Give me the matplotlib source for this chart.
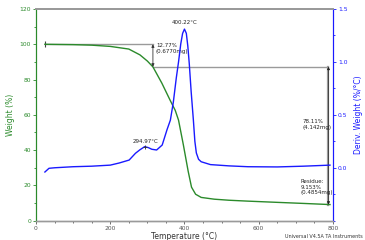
import numpy as np
import matplotlib.pyplot as plt

# Weight curve (TGA)
temp_w = [24, 60, 100, 150, 200, 250, 280, 300, 315, 339, 362, 375, 384, 397, 410, 419,
          430, 445, 480, 520, 570, 650, 720, 792]
weight = [100, 99.9, 99.8, 99.5, 98.8, 97.3, 94.0, 90.5, 87.2, 78.0, 68.0, 62.6, 57.0,
          43.0, 28.0, 19.0, 15.0, 13.2, 12.2, 11.6, 11.1, 10.4, 9.8, 9.15]

# Derivative weight curve (DTG)
temp_d = [24, 35, 50, 100, 150, 200, 224, 251, 268, 280, 293, 303, 312, 325, 340, 353,
          362, 370, 378, 384, 390, 395, 400, 405, 409, 413, 418, 424, 428, 432, 438,
          445, 470, 520, 571, 650, 720, 792]
deriv = [-0.04, -0.005, 0.0, 0.01, 0.015, 0.025, 0.045, 0.073, 0.137, 0.17, 0.2, 0.19,
         0.175, 0.168, 0.215, 0.36, 0.45, 0.62, 0.85, 1.0, 1.17, 1.27, 1.31, 1.27, 1.15,
         0.98, 0.72, 0.45, 0.25, 0.14, 0.08, 0.057, 0.03, 0.018, 0.01, 0.008, 0.015, 0.025]

step_start = 24
step1_end = 315
step1_level = 87.23
residue_T = 788
residue = 9.153
peak1 = (400.22, 1.31)
peak2 = (294.97, 0.2)

green = "#2b8a2b"
blue = "#1a1aff"
gray = "#9a9a9a"

fig = plt.figure(figsize=(3.65, 2.4), dpi=100)
ax = fig.add_axes([0.0986, 0.0804, 0.8136, 0.8821])
ax2 = ax.twinx()

ax.plot(temp_w, weight, color=green, lw=1.0, zorder=3)
ax2.plot(temp_d, deriv, color=blue, lw=1.0)

ax.set_xlim(0, 800)
ax.set_ylim(0, 120)
ax2.set_ylim(-0.5, 1.5)

ax.set_xticks([0, 200, 400, 600, 800])
ax.set_xticks(np.arange(0, 801, 50), minor=True)
ax.set_yticks(np.arange(0, 121, 20))
ax.set_yticks(np.arange(0, 121, 10), minor=True)
ax2.set_yticks([0.0, 0.5, 1.0, 1.5])
ax2.set_yticks(np.arange(-0.5, 1.51, 0.25), minor=True)
ax2.set_yticklabels(["0.0", "0.5", "1.0", "1.5"])

ax.tick_params(axis="x", labelsize=4.3, colors="#555555", length=2, width=0.6, pad=1.5)
ax.tick_params(axis="x", which="minor", length=1.5, width=0.6, colors="#555555")
ax.tick_params(axis="y", labelsize=4.3, colors=green, length=2, width=0.6, pad=1.5)
ax.tick_params(axis="y", which="minor", length=1.5, width=0.6, colors=green)
ax2.tick_params(axis="y", labelsize=4.3, colors=blue, length=2, width=0.6, pad=1.5)
ax2.tick_params(axis="y", which="minor", length=1.5, width=0.6, colors=blue)

for a in (ax, ax2):
    a.spines["top"].set_color(gray)
    a.spines["top"].set_linewidth(1.3)
    a.spines["bottom"].set_color(gray)
    a.spines["bottom"].set_linewidth(1.0)
    a.spines["left"].set_color(green)
    a.spines["right"].set_color(blue)
    a.spines["left"].set_linewidth(0.8)
    a.spines["right"].set_linewidth(0.8)

ax.set_xlabel("Temperature (°C)", fontsize=5.5, color="#333333", labelpad=1)
ax.set_ylabel("Weight (%)", fontsize=5.5, color=green, labelpad=3)
ax2.set_ylabel("Deriv. Weight (%/°C)", fontsize=5.5, color=blue, labelpad=5)

# Step annotations
ax.plot([step_start, step1_end], [100, 100], color=gray, lw=1.0, zorder=2)
ax.plot([step_start], [100], marker="|", color="#444444", ms=4, mew=0.8)
ax.plot([step1_end, residue_T], [step1_level, step1_level], color=gray, lw=1.0, zorder=2)
ax.annotate("", xy=(step1_end, step1_level), xytext=(step1_end, 100),
            arrowprops=dict(arrowstyle="<|-|>", color="#333333", lw=0.6,
                            mutation_scale=4, shrinkA=0, shrinkB=0))
ax.plot([residue_T, residue_T], [residue, step1_level], color=gray, lw=1.6, zorder=2)
ax.annotate("", xy=(residue_T, residue), xytext=(residue_T, step1_level),
            arrowprops=dict(arrowstyle="<|-|>", color="#222222", lw=0.5,
                            mutation_scale=4, shrinkA=0, shrinkB=0))

ax.text(323, 100.5, "12.77%\n(0.6770mg)", fontsize=4, va="top", ha="left",
        linespacing=1.1, color="#222222")
ax.text(718, 57.5, "78.11%\n(4.142mg)", fontsize=4, va="top", ha="left",
        linespacing=1.1, color="#222222")
ax.text(712, 23.5, "Residue:\n9.153%\n(0.4854mg)", fontsize=4, va="top", ha="left",
        linespacing=1.1, color="#222222")

ax2.annotate("400.22°C", xy=peak1, xytext=(0, 3), textcoords="offset points",
             ha="center", va="bottom", fontsize=4, color="#222222")
ax2.plot([peak2[0]], [peak2[1]], marker="+", color="#333333", ms=3, mew=0.6)
ax2.annotate("294.97°C", xy=peak2, xytext=(0, 2), textcoords="offset points",
             ha="center", va="bottom", fontsize=4, color="#222222")

fig.text(0.995, 0.005, "Universal V4.5A TA Instruments", fontsize=3.5, ha="right",
         va="bottom", color="#333333")

fig.savefig("out.png", dpi=100)
